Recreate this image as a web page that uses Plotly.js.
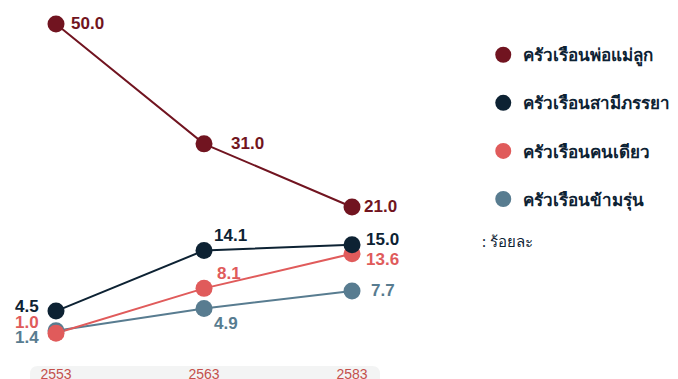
<!DOCTYPE html>
<html>
<head>
<meta charset="utf-8">
<script src="https://cdn.plot.ly/plotly-3.0.1.min.js"></script>
<style>html,body{margin:0;padding:0;background:#fff;}#chart{width:678px;height:379px;}</style>
</head>
<body>
<div id="chart"></div>
<script>
// ---- data ----
const years = ['2553', '2563', '2583'];
const seriesNames = ['ครัวเรือนพ่อแม่ลูก', 'ครัวเรือนสามีภรรยา', 'ครัวเรือนคนเดียว', 'ครัวเรือนข้ามรุ่น'];
const parentChild = [50.0, 31.0, 21.0];
const couple = [4.5, 14.1, 15.0];
const single = [1.0, 8.1, 13.6];
const skipGen = [1.4, 4.9, 7.7];
const unitLabel = ': ร้อยละ';

// ---- styles ----
const colors = ['#711420', '#0d2233', '#e05b5b', '#587c90'];
const values = [parentChild, couple, single, skipGen];
// label offsets per series per point: [xanchor, xshift, yshift]
const labelPos = [
  [['left', 14, 0], ['left', 26, 0], ['left', 11, 0]],
  [['right', -16, 5], ['left', 9, 15], ['left', 13, 5]],
  [['right', -16, 11], ['left', 12, 15], ['left', 13, -6]],
  [['right', -16, -7], ['left', 9, -15], ['left', 18, 0]]
];
const drawOrder = [3, 2, 1, 0];

const traces = [];
drawOrder.forEach(function (s) {
  traces.push({
    type: 'scatter', mode: 'lines', x: years, y: values[s],
    line: {color: colors[s], width: 2}, showlegend: false, hoverinfo: 'skip', cliponaxis: false
  });
});
drawOrder.forEach(function (s) {
  traces.push({
    type: 'scatter', mode: 'markers', x: years, y: values[s], name: seriesNames[s],
    marker: {color: colors[s], size: 17}, legendrank: s + 1, legendgroup: 'g' + s, cliponaxis: false
  });
});

const annotations = [];
values.forEach(function (vals, s) {
  vals.forEach(function (v, i) {
    const p = labelPos[s][i];
    annotations.push({
      x: i, y: v, xref: 'x', yref: 'y', text: '<b>' + v.toFixed(1) + '</b>', showarrow: false,
      xanchor: p[0], yanchor: 'middle', xshift: p[1], yshift: p[2], borderpad: 0,
      font: {family: 'Liberation Sans, Arial, sans-serif', size: 17, color: colors[s]}
    });
  });
});
annotations.push({
  x: 1.286, y: 0.32, xref: 'paper', yref: 'paper', text: unitLabel, showarrow: false,
  xanchor: 'left', yanchor: 'middle',
  font: {family: 'Noto Sans, sans-serif', size: 15, color: '#0d2233'}
});

const band = 'M 0.023,-0.034 L 0.977,-0.034 Q 1,-0.034 1,-0.057 L 1,-0.2 L 0,-0.2 L 0,-0.057 Q 0,-0.034 0.023,-0.034 Z';

const layout = {
  width: 678, height: 379,
  margin: {l: 30, r: 298, t: 0, b: 25},
  paper_bgcolor: '#ffffff', plot_bgcolor: '#ffffff',
  showlegend: true,
  legend: {
    x: 1.295, y: 0.895, xanchor: 'left', yanchor: 'top',
    traceorder: 'grouped', tracegroupgap: 23, itemsizing: 'trace',
    font: {family: 'Noto Sans, sans-serif', size: 17, color: '#0d2233', weight: 600},
    bgcolor: 'rgba(0,0,0,0)'
  },
  xaxis: {
    type: 'category', range: [-0.1757, 2.189], showgrid: false, zeroline: false, showline: false,
    ticks: '', ticklabelstandoff: 10,
    tickfont: {family: 'Liberation Sans, Arial, sans-serif', size: 14, color: '#c4504c'},
    fixedrange: true
  },
  yaxis: {range: [-2.3, 53.8], visible: false, fixedrange: true},
  shapes: [{type: 'path', xref: 'paper', yref: 'paper', path: band, fillcolor: '#f3f4f4', line: {width: 0}, layer: 'below'}],
  annotations: annotations
};

Plotly.newPlot('chart', traces, layout, {displayModeBar: false, staticPlot: true});
</script>
</body>
</html>
